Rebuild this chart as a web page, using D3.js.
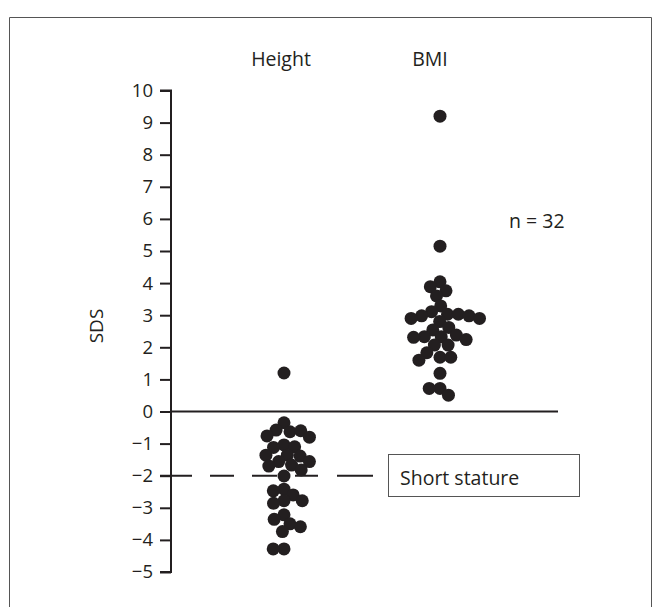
<!DOCTYPE html>
<html>
<head>
<meta charset="utf-8">
<script src="https://cdn.jsdelivr.net/npm/d3@7"></script>
<style>
  html, body { margin: 0; padding: 0; background: #fff; }
  svg text { font-family: "Open Sans", "Noto Sans", sans-serif; fill: #231f20; }
</style>
</head>
<body>
<svg id="chart" width="661" height="607"></svg>
<script>
// ---- data ----
const categories = ["Height", "BMI"];
const heightSDS = [1.2, -0.35, -0.58, -0.63, -0.6, -0.76, -0.8, -1.04, -1.12, -1.1,
  -1.36, -1.39, -1.36, -1.56, -1.56, -1.67, -1.7, -1.82, -2.01, -2.42, -2.47, -2.6,
  -2.78, -2.86, -2.78, -3.22, -3.36, -3.5, -3.59, -3.74, -4.28, -4.28];
const bmiSDS = [9.2, 5.15, 4.04, 3.89, 3.76, 3.6, 3.29, 3.11, 3.03, 3.03, 2.98, 2.98,
  2.9, 2.9, 2.8, 2.62, 2.54, 2.38, 2.33, 2.33, 2.31, 2.24, 2.07, 2.07, 1.83, 1.69,
  1.69, 1.6, 1.19, 0.72, 0.72, 0.51];
const yTicks = [10, 9, 8, 7, 6, 5, 4, 3, 2, 1, 0, -1, -2, -3, -4, -5];
const shortStatureCutoff = -2;
const nLabel = "n = 32";
const boxLabel = "Short stature";
const yLabel = "SDS";

// ---- layout ----
const svg = d3.select("#chart");
const ink = "#231f20";
const axisX = 171;
const y = d3.scaleLinear().domain([-5, 10]).range([572, 90.5]);
const x = d3.scalePoint().domain(categories).range([284, 440]);
const r = 6.5;
const sep = 10.8;

// frame
svg.append("path")
  .attr("d", "M9.5,607 V17.5 H651.5 V607")
  .attr("fill", "none").attr("stroke", "#555").attr("stroke-width", 1);

// beeswarm (deterministic greedy placement)
function swarm(values) {
  const placed = [];
  values.forEach(v => {
    const py = y(v);
    const cands = [0];
    placed.forEach(p => {
      const dy = Math.abs(p.y - py);
      if (dy < sep) {
        const dx = Math.sqrt(sep * sep - dy * dy);
        cands.push(p.dx + dx, p.dx - dx);
      }
    });
    cands.sort((a, b) => Math.abs(a) - Math.abs(b) || a - b);
    let best = 0;
    for (const c of cands) {
      const ok = placed.every(p => {
        const ddx = p.dx - c, ddy = p.y - py;
        return ddx * ddx + ddy * ddy >= sep * sep - 0.01;
      });
      if (ok) { best = c; break; }
    }
    placed.push({ v, y: py, dx: best });
  });
  return placed;
}

// zero line
svg.append("line")
  .attr("x1", axisX).attr("x2", 558)
  .attr("y1", y(0)).attr("y2", y(0))
  .attr("stroke", ink).attr("stroke-width", 2);

// dashed cutoff line
svg.append("line")
  .attr("x1", 160).attr("x2", 373)
  .attr("y1", y(shortStatureCutoff)).attr("y2", y(shortStatureCutoff))
  .attr("stroke", ink).attr("stroke-width", 2)
  .attr("stroke-dasharray", "32,18,24,18,25,18,23,19,36");

// y axis
const axis = d3.axisLeft(y).tickValues(yTicks).tickSize(11).tickPadding(7)
  .tickFormat(d => d < 0 ? "\u2212" + Math.abs(d) : String(d));
const gAxis = svg.append("g").attr("transform", `translate(${axisX},0)`).call(axis);
gAxis.select(".domain").attr("stroke", ink).attr("stroke-width", 2)
  .attr("d", `M-11,${y(10)}H0V${y(-5)}H-11`);
gAxis.selectAll(".tick line").attr("stroke", ink).attr("stroke-width", 2);
gAxis.selectAll(".tick text").attr("font-size", 18.5)
  .attr("font-family", "'Open Sans', sans-serif").attr("fill", ink);

// y label
svg.append("text")
  .attr("transform", `translate(103,326) rotate(-90)`)
  .attr("text-anchor", "middle").attr("font-size", 19)
  .text(yLabel);

// headers
const headerOffset = { Height: -3, BMI: -10 };
svg.selectAll("text.header").data(categories).join("text")
  .attr("class", "header")
  .attr("x", d => x(d) + headerOffset[d]).attr("y", 66)
  .attr("text-anchor", "middle").attr("font-size", 19.5)
  .text(d => d);

// dots
const series = [heightSDS, bmiSDS];
categories.forEach((c, i) => {
  const pts = swarm(series[i]);
  svg.append("g").selectAll("circle").data(pts).join("circle")
    .attr("cx", d => x(c) + d.dx).attr("cy", d => d.y).attr("r", r)
    .attr("fill", ink);
});

// n label
svg.append("text").attr("x", 509).attr("y", 228).attr("font-size", 19.5).text(nLabel);

// short stature box
svg.append("rect")
  .attr("x", 388.5).attr("y", 454.5).attr("width", 191).attr("height", 42)
  .attr("fill", "#fff").attr("stroke", "#555").attr("stroke-width", 1);
svg.append("text").attr("x", 400).attr("y", 485).attr("font-size", 19.5).text(boxLabel);
</script>
</body>
</html>
